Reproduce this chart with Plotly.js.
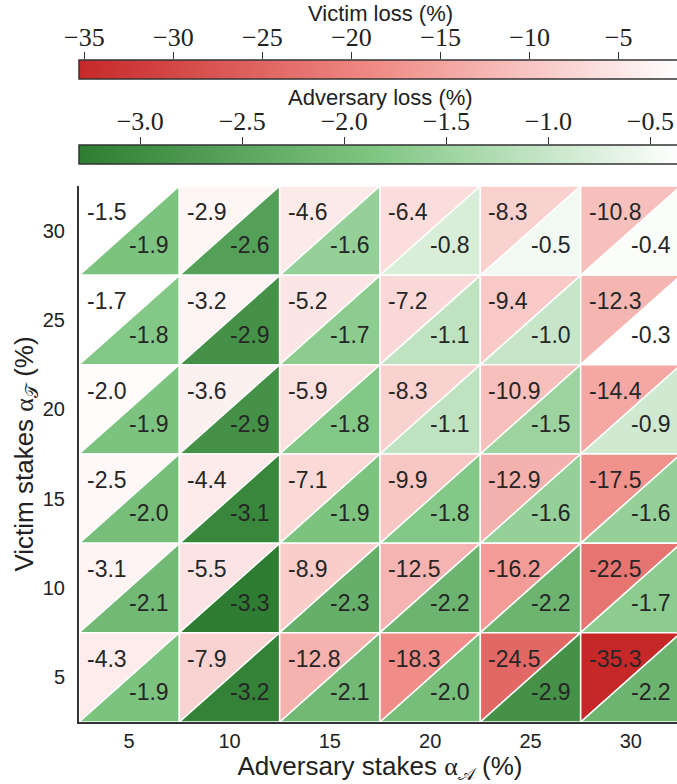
<!DOCTYPE html>
<html>
<head>
<meta charset="utf-8">
<script src="https://cdn.plot.ly/plotly-3.0.1.min.js"></script>
<style>
html,body{margin:0;padding:0;overflow:hidden;background:#fff;}
#chart{width:692px;height:784px;}
</style>
</head>
<body>
<div id="chart"></div>
<script>
// ---- data ----
const advStakes = [5, 10, 15, 20, 25, 30];          // x categories (%)
const vicStakes = [30, 25, 20, 15, 10, 5];          // y categories, top to bottom (%)
const victimLoss = [                                 // rows follow vicStakes
  [-1.5, -2.9, -4.6, -6.4, -8.3, -10.8],
  [-1.7, -3.2, -5.2, -7.2, -9.4, -12.3],
  [-2.0, -3.6, -5.9, -8.3, -10.9, -14.4],
  [-2.5, -4.4, -7.1, -9.9, -12.9, -17.5],
  [-3.1, -5.5, -8.9, -12.5, -16.2, -22.5],
  [-4.3, -7.9, -12.8, -18.3, -24.5, -35.3]
];
const adversaryLoss = [
  [-1.9, -2.6, -1.6, -0.8, -0.5, -0.4],
  [-1.8, -2.9, -1.7, -1.1, -1.0, -0.3],
  [-1.9, -2.9, -1.8, -1.1, -1.5, -0.9],
  [-2.0, -3.1, -1.9, -1.8, -1.6, -1.6],
  [-2.1, -3.3, -2.3, -2.2, -2.2, -1.7],
  [-1.9, -3.2, -2.1, -2.0, -2.9, -2.2]
];
const victimTicks = [-35, -30, -25, -20, -15, -10, -5];
const adversaryTicks = [-3.0, -2.5, -2.0, -1.5, -1.0, -0.5];
const adversaryMax = -0.35;   // colour-scale upper end (estimated)

// ---- colour scales ----
const redScale = [[0, '#c62828'], [0.5, '#f08c87'], [1, '#ffffff']];
const greenScale = [[0, '#2e7d32'], [0.5, '#81c784'], [1, '#ffffff']];

function hexToRgb(h){ h=h.replace('#',''); return [0,2,4].map(i=>parseInt(h.substr(i,2),16)); }
function colorAt(scale, v, vmin, vmax){
  let t = (v - vmin) / (vmax - vmin); t = Math.max(0, Math.min(1, t));
  for (let i = 0; i < scale.length - 1; i++){
    const [t0, c0] = scale[i], [t1, c1] = scale[i+1];
    if (t <= t1){
      const f = (t - t0) / (t1 - t0), a = hexToRgb(c0), b = hexToRgb(c1);
      return 'rgb(' + a.map((x,k)=>Math.round(x + f*(b[k]-x))).join(',') + ')';
    }
  }
  return scale[scale.length-1][1];
}

const flatV = victimLoss.flat(), flatA = adversaryLoss.flat();
const vMin = Math.min(...flatV), vMax = Math.max(...flatV);
const aMin = Math.min(...flatA), aMax = adversaryMax;

// ---- geometry helpers (page pixels -> paper fractions) ----
const plotH = 722;                       // plot-area height (margin t=0, b=62)
const fy = px => (plotH - px) / plotH;

const sansFont = 'Liberation Sans, Arial, sans-serif';
const traces = [];
const annotations = [];
const half = 2.5;
vicStakes.forEach((ys, r) => {
  advStakes.forEach((xs, c) => {
    const v = victimLoss[r][c], a = adversaryLoss[r][c];
    traces.push({
      type:'scatter', mode:'lines', fill:'toself', hoverinfo:'skip', showlegend:false,
      x:[xs-half, xs-half, xs+half, xs-half], y:[ys-half, ys+half, ys+half, ys-half],
      fillcolor: colorAt(redScale, v, vMin, vMax), line:{color:'#ffffff', width:1.5}
    });
    traces.push({
      type:'scatter', mode:'lines', fill:'toself', hoverinfo:'skip', showlegend:false,
      x:[xs-half, xs+half, xs+half, xs-half], y:[ys-half, ys-half, ys+half, ys-half],
      fillcolor: colorAt(greenScale, a, aMin, aMax), line:{color:'#ffffff', width:1.5}
    });
    annotations.push({
      x: xs-half, y: ys+half, xref:'x', yref:'y', xanchor:'left', yanchor:'middle',
      xshift: 6, yshift: -26, showarrow:false, text: v.toFixed(1),
      font:{family:sansFont, size:23, color:'#262626'}
    });
    annotations.push({
      x: xs+half, y: ys-half, xref:'x', yref:'y', xanchor:'right', yanchor:'middle',
      xshift: -8, yshift: 30, showarrow:false, text: a.toFixed(1),
      font:{family:sansFont, size:23, color:'#262626'}
    });
  });
});

// colour-bar carrier traces
traces.push({
  type:'scatter', mode:'markers', xaxis:'x2', yaxis:'y2', x: flatV, y: flatV.map(()=>0.5),
  hoverinfo:'skip', showlegend:false,
  marker:{color: flatV, colorscale: redScale, cmin: vMin, cmax: vMax, opacity:0, showscale:true,
    colorbar:{orientation:'h', x:0, xanchor:'left', len:1, lenmode:'fraction',
      y: fy(60), yanchor:'top', thickness:19, thicknessmode:'pixels', xpad:0, ypad:0,
      outlinewidth:1.5, outlinecolor:'#333', ticks:'', showticklabels:false}}
});
traces.push({
  type:'scatter', mode:'markers', xaxis:'x3', yaxis:'y3', x: flatA, y: flatA.map(()=>0.5),
  hoverinfo:'skip', showlegend:false,
  marker:{color: flatA, colorscale: greenScale, cmin: aMin, cmax: aMax, opacity:0, showscale:true,
    colorbar:{orientation:'h', x:0, xanchor:'left', len:1, lenmode:'fraction',
      y: fy(144.5), yanchor:'top', thickness:19, thicknessmode:'pixels', xpad:0, ypad:0,
      outlinewidth:1.5, outlinecolor:'#333', ticks:'', showticklabels:false}}
});

const minus = s => s.replace('-', '\u2212');
const serifTick = {family:'Liberation Serif, Times New Roman, serif', size:26, color:'#222'};

annotations.push({xref:'paper', yref:'paper', x:0.5, y:fy(13), xanchor:'center', yanchor:'middle',
  showarrow:false, text:'Victim loss (%)', font:{family:sansFont, size:22, color:'#222'}});
annotations.push({xref:'paper', yref:'paper', x:0.5, y:fy(97), xanchor:'center', yanchor:'middle',
  showarrow:false, text:'Adversary loss (%)', font:{family:sansFont, size:22, color:'#222'}});

const layout = {
  width: 692, height: 784,
  margin:{l:79, r:11, t:0, b:62},
  paper_bgcolor:'#fff', plot_bgcolor:'#fff',
  hovermode:false, showlegend:false,
  xaxis:{domain:[0,1], anchor:'y', range:[2.5, 32.5], tickvals: advStakes, ticks:'',
    showgrid:false, zeroline:false, showline:true, linecolor:'#333', linewidth:2,
    tickfont:{family:sansFont, size:20, color:'#222'}, ticklabelstandoff:0,
    title:{text:'Adversary stakes <span style="font-family:Liberation Serif">α</span><sub>𝒜</sub> (%)',
      font:{family:sansFont, size:26, color:'#222'}, standoff:6}},
  yaxis:{domain:[0, fy(186)], anchor:'x', range:[2.5, 32.5], tickvals: vicStakes, ticks:'',
    showgrid:false, zeroline:false, showline:true, linecolor:'#333', linewidth:2,
    tickfont:{family:sansFont, size:20, color:'#222'}, ticklabelstandoff:8,
    title:{text:'Victim stakes <span style="font-family:Liberation Serif">α</span><sub>𝒯</sub> (%)',
      font:{family:sansFont, size:26, color:'#222'}, standoff:2}},
  xaxis2:{domain:[0,1], anchor:'y2', side:'top', range:[vMin, vMax],
    tickvals: victimTicks, ticktext: victimTicks.map(v=>minus(String(v))),
    ticks:'outside', ticklen:7, tickwidth:1.2, tickcolor:'#333',
    showgrid:false, zeroline:false, showline:false, tickfont: serifTick, ticklabelstandoff:-4},
  yaxis2:{domain:[fy(79), fy(60)], anchor:'x2', visible:false, range:[0,1]},
  xaxis3:{domain:[0,1], anchor:'y3', side:'top', range:[aMin, aMax],
    tickvals: adversaryTicks, ticktext: adversaryTicks.map(v=>minus(v.toFixed(1))),
    ticks:'outside', ticklen:7, tickwidth:1.2, tickcolor:'#333',
    showgrid:false, zeroline:false, showline:false, tickfont: serifTick, ticklabelstandoff:-4},
  yaxis3:{domain:[fy(164), fy(144.5)], anchor:'x3', visible:false, range:[0,1]},
  annotations: annotations
};

Plotly.newPlot('chart', traces, layout, {displayModeBar:false, staticPlot:true});
</script>
</body>
</html>
